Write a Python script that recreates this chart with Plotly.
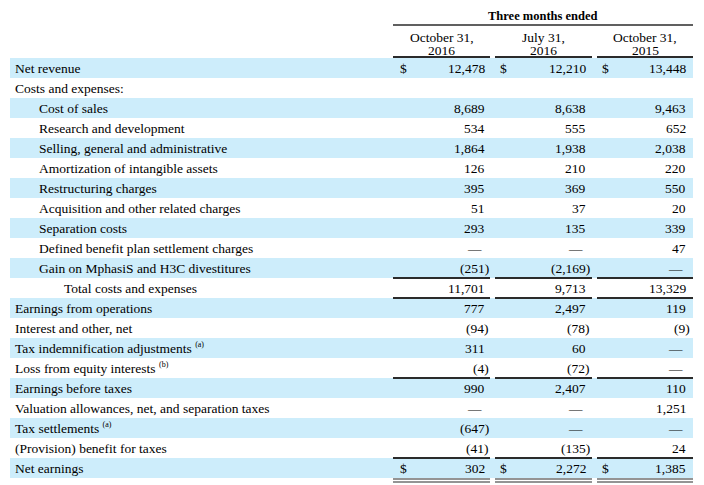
import plotly.graph_objects as go

# ---------------- data ----------------
row_labels = [
    "Net revenue",
    "Costs and expenses:",
    "Cost of sales",
    "Research and development",
    "Selling, general and administrative",
    "Amortization of intangible assets",
    "Restructuring charges",
    "Acquisition and other related charges",
    "Separation costs",
    "Defined benefit plan settlement charges",
    "Gain on MphasiS and H3C divestitures",
    "Total costs and expenses",
    "Earnings from operations",
    "Interest and other, net",
    "Tax indemnification adjustments",
    "Loss from equity interests",
    "Earnings before taxes",
    "Valuation allowances, net, and separation taxes",
    "Tax settlements",
    "(Provision) benefit for taxes",
    "Net earnings",
]
row_indent = [0, 0, 1, 1, 1, 1, 1, 1, 1, 1, 1, 2, 0, 0, 0, 0, 0, 0, 0, 0, 0]
row_notes = ["", "", "", "", "", "", "", "", "", "", "", "", "", "",
             "(a)", "(b)", "", "", "(a)", "", ""]

period_title = "Three months ended"
col_headers = [("October 31,", "2016"), ("July 31,", "2016"), ("October 31,", "2015")]

# "" = blank cell, None = dash
oct_2016 = [12478, "", 8689, 534, 1864, 126, 395, 51, 293, None, -251, 11701,
            777, -94, 311, -4, 990, None, -647, -41, 302]
jul_2016 = [12210, "", 8638, 555, 1938, 210, 369, 37, 135, None, -2169, 9713,
            2497, -78, 60, -72, 2407, None, None, -135, 2272]
oct_2015 = [13448, "", 9463, 652, 2038, 220, 550, 20, 339, 47, None, 13329,
            119, -9, None, None, 110, 1251, None, 24, 1385]
columns = [oct_2016, jul_2016, oct_2015]

dollar_rows = [0, 20]
rule_above_rows = [11, 12, 16, 20]
double_rule_below_rows = [20]

# ---------------- layout constants ----------------
W, H = 704, 485
PAGE_OFF = 8  # default page margin of the HTML body
ROW0, ROWH = 58, 20
BAND_X0, BAND_X1 = 10, 693
BLUE = "#cdedfb"
RULE = "#2b2b2b"
FONT = "Liberation Serif, Times New Roman, serif"
FS = 13.5
label_x = [13, 37, 62]
col_right = [487, 588, 688]
col_dollar = [398, 498, 600]
col_seg = [(393, 490), (495, 592), (597, 693)]

def row_top(i):
    return ROW0 + ROWH * i

def row_mid(i):
    return ROW0 + ROWH * i + ROWH / 2

def fmt(v):
    if v is None:
        return "—"
    if v == "":
        return ""
    if v < 0:
        return "({:,})".format(-v)
    return "{:,}".format(v)

fig = go.Figure()
# invisible trace to establish axes
fig.add_trace(go.Scatter(x=[0, W], y=[0, H], mode="markers",
                         marker=dict(opacity=0), hoverinfo="skip", showlegend=False))

shapes = []
annotations = []

# bands
for i in range(len(row_labels)):
    if i % 2 == 0:
        shapes.append(dict(type="rect", xref="x", yref="y", x0=BAND_X0, x1=BAND_X1,
                           y0=row_top(i), y1=row_top(i + 1), fillcolor=BLUE,
                           line=dict(width=0), layer="below"))

# header
annotations.append(dict(x=(col_seg[0][0] + col_seg[2][1]) / 2, y=16, text="<b>" + period_title + "</b>",
                        showarrow=False, xanchor="center", yanchor="middle",
                        font=dict(family=FONT, size=12.5, color="#000")))
shapes.append(dict(type="line", xref="x", yref="y", x0=col_seg[0][0], x1=col_seg[2][1],
                   y0=25, y1=25, line=dict(color=RULE, width=1.5)))
for c, (l1, l2) in enumerate(col_headers):
    cx = (col_seg[c][0] + col_seg[c][1]) / 2
    annotations.append(dict(x=cx, y=37, text=l1, showarrow=False, xanchor="center",
                            yanchor="middle", font=dict(family=FONT, size=FS, color="#000")))
    annotations.append(dict(x=cx, y=50, text=l2, showarrow=False, xanchor="center",
                            yanchor="middle", font=dict(family=FONT, size=FS, color="#000")))
    shapes.append(dict(type="line", xref="x", yref="y", x0=col_seg[c][0], x1=col_seg[c][1],
                       y0=57, y1=57, line=dict(color=RULE, width=2)))

# labels
for i, lab in enumerate(row_labels):
    txt = lab
    if row_notes[i]:
        txt += " <sup><span style='font-size:8px'>" + row_notes[i] + "</span></sup>"
    annotations.append(dict(x=label_x[row_indent[i]], y=row_mid(i), text=txt, showarrow=False,
                            xanchor="left", yanchor="middle",
                            font=dict(family=FONT, size=FS, color="#000")))

# values
for c, col in enumerate(columns):
    for i, v in enumerate(col):
        s = fmt(v)
        if not s:
            continue
        xr = col_right[c]
        if v is None:
            xr -= 3
        elif v < 0:
            xr += 4
        annotations.append(dict(x=xr, y=row_mid(i), text=s, showarrow=False,
                                xanchor="right", yanchor="middle",
                                font=dict(family=FONT, size=FS, color="#000")))
    for i in dollar_rows:
        annotations.append(dict(x=col_dollar[c], y=row_mid(i), text="$\u00a0", showarrow=False,
                                xanchor="left", yanchor="middle",
                                font=dict(family=FONT, size=FS, color="#000")))
    for i in rule_above_rows:
        shapes.append(dict(type="line", xref="x", yref="y", x0=col_seg[c][0], x1=col_seg[c][1],
                           y0=row_top(i), y1=row_top(i), line=dict(color=RULE, width=2)))
    for i in double_rule_below_rows:
        for off in (1, 4):
            shapes.append(dict(type="line", xref="x", yref="y", x0=col_seg[c][0], x1=col_seg[c][1],
                               y0=row_top(i + 1) + off, y1=row_top(i + 1) + off,
                               line=dict(color=RULE, width=1.2)))

fig.update_layout(
    width=W, height=H,
    margin=dict(l=0, r=0, t=0, b=0),
    paper_bgcolor="white", plot_bgcolor="white",
    # ranges shifted so that window pixels equal data units despite the page margin
    xaxis=dict(range=[PAGE_OFF, W + PAGE_OFF], visible=False, fixedrange=True),
    yaxis=dict(range=[H + PAGE_OFF, PAGE_OFF], visible=False, fixedrange=True),
    shapes=shapes, annotations=annotations, showlegend=False,
)

fig.write_html("out.html", config={"displayModeBar": False})
